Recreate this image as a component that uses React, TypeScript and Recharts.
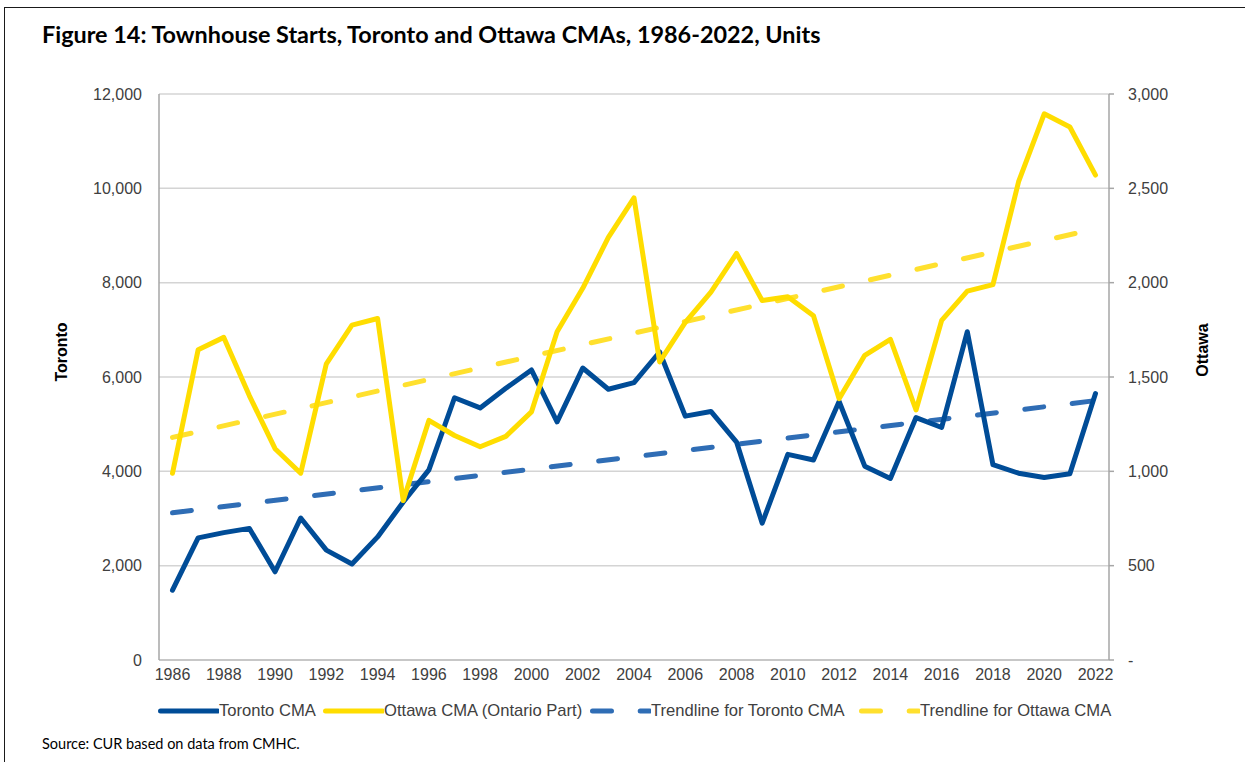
import { LineChart, Line, XAxis, YAxis, CartesianGrid } from 'recharts';

const years = [
  '1986', '1987', '1988', '1989', '1990', '1991', '1992', '1993', '1994', '1995',
  '1996', '1997', '1998', '1999', '2000', '2001', '2002', '2003', '2004', '2005',
  '2006', '2007', '2008', '2009', '2010', '2011', '2012', '2013', '2014', '2015',
  '2016', '2017', '2018', '2019', '2020', '2021', '2022',
];

const torontoStarts = [
  1480, 2590, 2700, 2790, 1870, 3010, 2330, 2035, 2610, 3350,
  4030, 5560, 5345, 5760, 6150, 5050, 6190, 5740, 5880, 6530,
  5170, 5270, 4620, 2900, 4360, 4240, 5480, 4110, 3850, 5140,
  4930, 6960, 4140, 3960, 3870, 3950, 5650,
];

const ottawaStarts = [
  990, 1645, 1710, 1400, 1120, 990, 1570, 1775, 1810, 845,
  1270, 1190, 1130, 1185, 1315, 1740, 1970, 2240, 2450, 1580,
  1790, 1950, 2155, 1905, 1925, 1825, 1385, 1615, 1700, 1325,
  1800, 1955, 1990, 2535, 2895, 2825, 2570,
];

// trendline end points (first and last year)
const torontoTrendEnds = [3120, 5500];
const ottawaTrendEnds = [1180, 2285];

const leftTicks = [0, 2000, 4000, 6000, 8000, 10000, 12000];
const rightTicks = [0, 500, 1000, 1500, 2000, 2500, 3000];

const TORONTO = '#004C97';
const OTTAWA = '#FFDD00';
const TORONTO_TREND = '#2F6DB5';
const OTTAWA_TREND = '#FFE02E';

const data = years.map((year, i) => ({
  year,
  toronto: torontoStarts[i],
  ottawa: ottawaStarts[i],
  torontoTrend: i === 0 ? torontoTrendEnds[0] : i === years.length - 1 ? torontoTrendEnds[1] : null,
  ottawaTrend: i === 0 ? ottawaTrendEnds[0] : i === years.length - 1 ? ottawaTrendEnds[1] : null,
}));

const fmt = (v: number) => (v === 0 ? '0' : v.toLocaleString('en-US'));
const fmtRight = (v: number) => (v === 0 ? '-' : v.toLocaleString('en-US'));

const ARIAL = '"Liberation Sans", Arial, sans-serif';
const DASH = '19 28.7';

const legendItems = [
  { label: 'Toronto CMA', color: TORONTO, dash: undefined, left: 158 },
  { label: 'Ottawa CMA (Ontario Part)', color: OTTAWA, dash: undefined, left: 323 },
  { label: 'Trendline for Toronto CMA', color: TORONTO_TREND, dash: DASH, left: 590 },
  { label: 'Trendline for Ottawa CMA', color: OTTAWA_TREND, dash: DASH, left: 859 },
];

export default function App() {
  const tickStyle = { fontSize: 16, fill: '#404040', fontFamily: ARIAL };

  return (
    <div style={{ position: 'absolute', left: 0, top: 0, width: 1245, height: 762, overflow: 'hidden', background: '#fff' }}>
      {/* figure frame */}
      <div
        style={{
          position: 'absolute', left: 4, top: 7, width: 1400, height: 900,
          borderTop: '1.5px solid #1a1a1a', borderLeft: '1.5px solid #1a1a1a',
        }}
      />

      <div
        style={{
          position: 'absolute', left: 42, top: 20, fontFamily: 'Lato, sans-serif',
          fontWeight: 700, fontSize: 23.4, color: '#000', whiteSpace: 'nowrap',
        }}
      >
        Figure 14: Townhouse Starts, Toronto and Ottawa CMAs, 1986-2022, Units
      </div>

      <div style={{ position: 'absolute', left: 0, top: 0 }}>
        <LineChart width={1245} height={762} data={data} margin={{ top: 94, right: 76, bottom: 72, left: 99 }}>
          <CartesianGrid yAxisId="left" vertical={false} stroke="#d4d4d4" strokeWidth={1.5} />
          <XAxis
            dataKey="year"
            interval={1}
            padding={{ left: 13.5, right: 13.5 }}
            tickLine={false}
            tickSize={6}
            tickMargin={3}
            height={30}
            stroke="#bfbfbf"
            strokeWidth={1.5}
            tick={tickStyle}
          />
          <YAxis
            yAxisId="left"
            orientation="left"
            domain={[0, 12000]}
            ticks={leftTicks}
            tickFormatter={fmt}
            width={60}
            tickLine={false}
            tickSize={0}
            tickMargin={17}
            stroke="#a6a6a6"
            strokeWidth={1.5}
            tick={tickStyle}
          />
          <YAxis
            yAxisId="right"
            orientation="right"
            domain={[0, 3000]}
            ticks={rightTicks}
            tickFormatter={fmtRight}
            width={60}
            tickSize={5}
            tickMargin={14}
            stroke="#a6a6a6"
            strokeWidth={1.5}
            tick={tickStyle}
          />
          <Line
            yAxisId="left"
            dataKey="torontoTrend"
            stroke={TORONTO_TREND}
            strokeWidth={5}
            strokeDasharray={DASH}
            strokeLinecap="round"
            connectNulls
            dot={false}
            activeDot={false}
            isAnimationActive={false}
          />
          <Line
            yAxisId="right"
            dataKey="ottawaTrend"
            stroke={OTTAWA_TREND}
            strokeWidth={5}
            strokeDasharray={DASH}
            strokeLinecap="round"
            connectNulls
            dot={false}
            activeDot={false}
            isAnimationActive={false}
          />
          <Line
            yAxisId="left"
            dataKey="toronto"
            stroke={TORONTO}
            strokeWidth={5}
            strokeLinecap="round"
            strokeLinejoin="round"
            dot={false}
            activeDot={false}
            isAnimationActive={false}
          />
          <Line
            yAxisId="right"
            dataKey="ottawa"
            stroke={OTTAWA}
            strokeWidth={5}
            strokeLinecap="round"
            strokeLinejoin="round"
            dot={false}
            activeDot={false}
            isAnimationActive={false}
          />
        </LineChart>
      </div>

      {/* axis titles */}
      <div
        style={{
          position: 'absolute', left: 62, top: 352, transform: 'translate(-50%, -50%) rotate(-90deg)',
          fontFamily: ARIAL, fontWeight: 700, fontSize: 16, color: '#000',
        }}
      >
        Toronto
      </div>
      <div
        style={{
          position: 'absolute', left: 1203, top: 350, transform: 'translate(-50%, -50%) rotate(-90deg)',
          fontFamily: ARIAL, fontWeight: 700, fontSize: 16, color: '#000',
        }}
      >
        Ottawa
      </div>

      {/* legend */}
      {legendItems.map((item) => (
        <div
          key={item.label}
          style={{
            position: 'absolute', left: item.left, top: 700, height: 22, display: 'flex',
            alignItems: 'center', fontFamily: ARIAL, fontSize: 16.6, color: '#404040', whiteSpace: 'nowrap',
          }}
        >
          <svg width={61} height={10}>
            <line
              x1={2.5} y1={5} x2={59.5} y2={5}
              stroke={item.color} strokeWidth={5} strokeLinecap="round"
              strokeDasharray={item.dash}
            />
          </svg>
          <span>{item.label}</span>
        </div>
      ))}

      <div
        style={{
          position: 'absolute', left: 42, top: 735, fontFamily: 'Lato, sans-serif',
          fontSize: 14.5, color: '#000', whiteSpace: 'nowrap',
        }}
      >
        Source: CUR based on data from CMHC.
      </div>
    </div>
  );
}
